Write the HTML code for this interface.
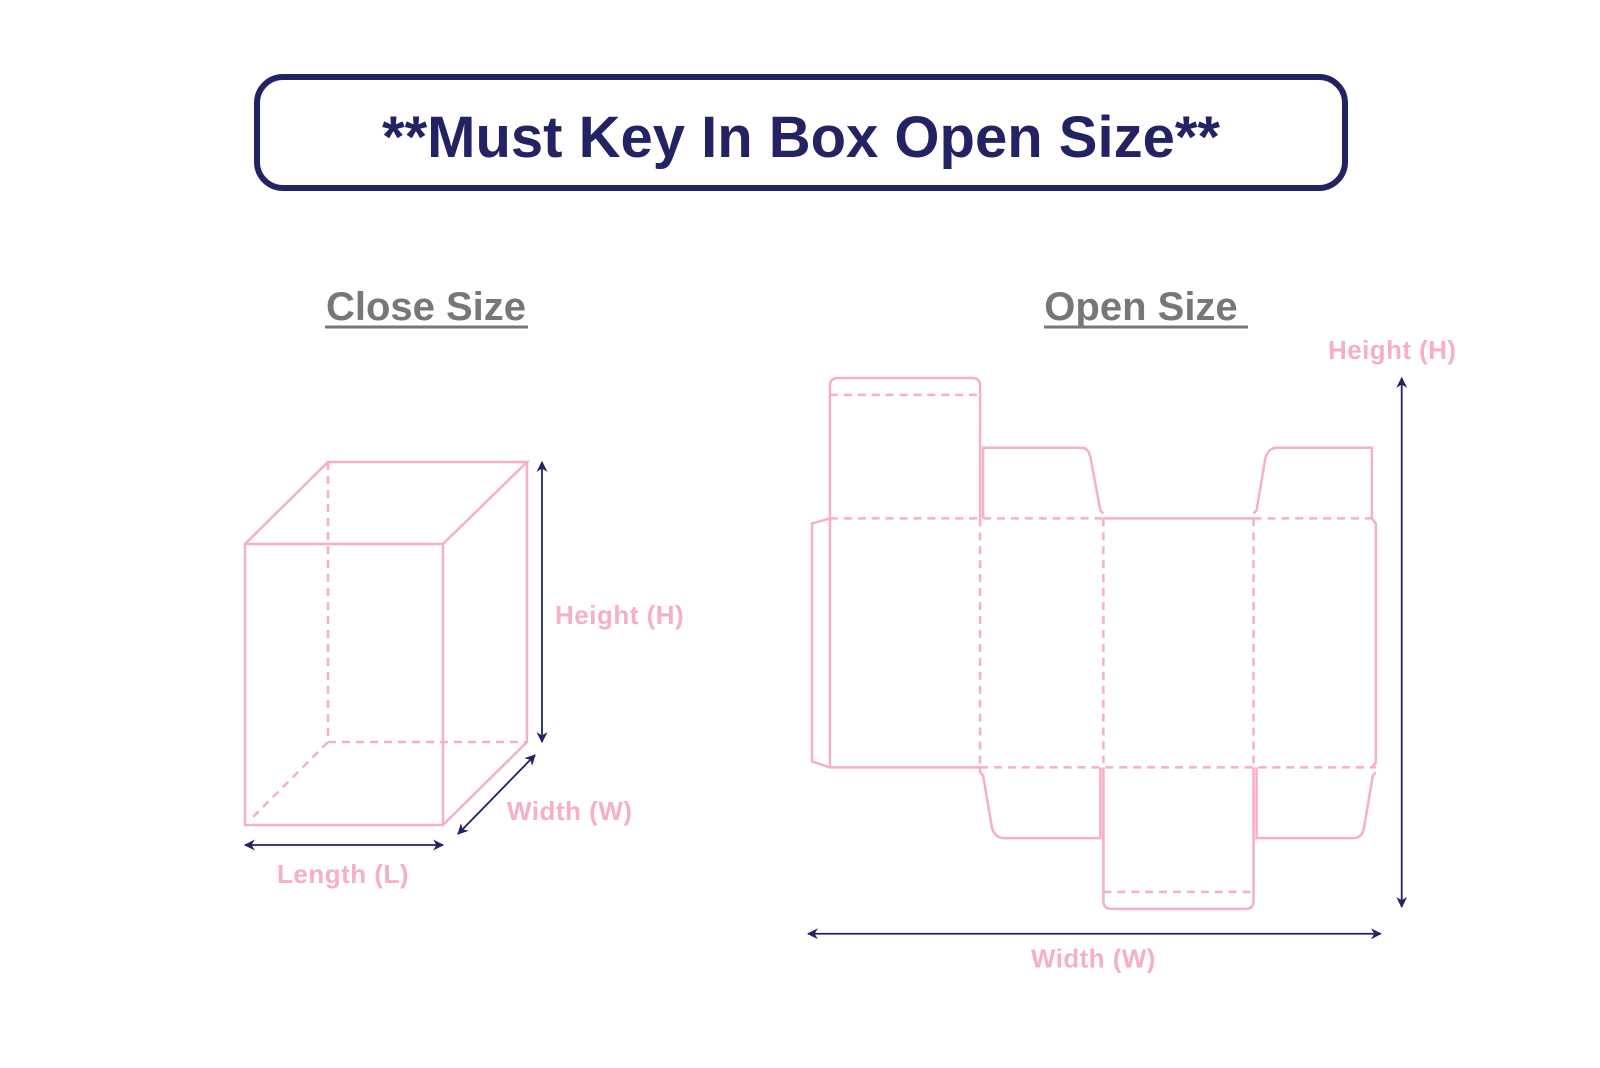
<!DOCTYPE html>
<html><head><meta charset="utf-8"><style>
html,body{margin:0;padding:0;background:#fff;}
svg{display:block;}
</style></head><body>
<svg width="1600" height="1068" viewBox="0 0 1600 1068" xmlns="http://www.w3.org/2000/svg">
<defs>
<marker id="ah" viewBox="0 0 10 10" refX="9" refY="5" markerWidth="13" markerHeight="11" orient="auto-start-reverse" markerUnits="userSpaceOnUse">
<path d="M0,0 L10,5 L0,10 L3,5 z" fill="#232363"/></marker>
</defs>
<rect x="257" y="77" width="1088" height="111" rx="26" fill="none" stroke="#232363" stroke-width="6"/>
<text x="801" y="157" text-anchor="middle" font-family="Liberation Sans, sans-serif" font-weight="bold" font-size="58" fill="#232363">**Must Key In Box Open Size**</text>
<text x="426" y="320" text-anchor="middle" font-family="Liberation Sans, sans-serif" font-weight="bold" font-size="40" fill="#77777a">Close Size</text>
<text x="1141" y="320" text-anchor="middle" font-family="Liberation Sans, sans-serif" font-weight="bold" font-size="40" fill="#77777a">Open Size</text>
<line x1="325" y1="327" x2="528" y2="327" stroke="#77777a" stroke-width="3"/>
<line x1="1044" y1="327" x2="1248" y2="327" stroke="#77777a" stroke-width="3"/>

<g transform="translate(-1,-2)">
<g fill="none" stroke="#f6afc4" stroke-width="2.5">
<rect x="246" y="546" width="198" height="281"/>
<polyline points="246,546 329,464 528,464 444,546"/>
<polyline points="528,464 528,744 444,827"/>
<g stroke-dasharray="8,6">
<line x1="329" y1="464" x2="329" y2="744"/>
<line x1="329" y1="744" x2="528" y2="744"/>
<line x1="329" y1="744" x2="250" y2="823"/>
</g>
</g>
<g stroke="#232363" stroke-width="1.8">
<line x1="543" y1="464" x2="543" y2="744" marker-start="url(#ah)" marker-end="url(#ah)"/>
<line x1="459" y1="836" x2="536" y2="757" marker-start="url(#ah)" marker-end="url(#ah)"/>
<line x1="246" y1="847" x2="444" y2="847" marker-start="url(#ah)" marker-end="url(#ah)"/>
</g>
<g font-family="Liberation Sans, sans-serif" font-weight="bold" font-size="26" letter-spacing="0.5" fill="#f6afc4">
<text x="556" y="626">Height (H)</text>
<text x="508" y="822">Width (W)</text>
<text x="278" y="885">Length (L)</text>
</g>
</g>

<g transform="matrix(0.9944,0,0,0.996,0.6,-0.5)">
<g stroke="#232363" stroke-width="1.8">
<line x1="1409" y1="380" x2="1409" y2="911" marker-start="url(#ah)" marker-end="url(#ah)"/>
<line x1="812" y1="938" x2="1388" y2="938" marker-start="url(#ah)" marker-end="url(#ah)"/>
</g>
<g font-family="Liberation Sans, sans-serif" font-weight="bold" font-size="26" letter-spacing="0.5" fill="#f6afc4">
<text x="1335" y="361">Height (H)</text>
<text x="1099" y="972" text-anchor="middle">Width (W)</text>
</g>
<g fill="none" stroke="#f6afc4" stroke-width="2.5">
<path d="M834,521 V388 Q834,380 842,380 H977 Q985,380 985,388 V521"/>
<path d="M834,521 L816,526 V765 L834,771"/>
<path d="M834,521 V771 H985"/>
<path d="M1109,521 H1260"/>
<path d="M1379,521 L1383,526 V766 L1379,771"/>
<path d="M988,521 V450 H1087 Q1094,450 1096,460 L1106,513 L1109,516"/>
<path d="M1260,516 L1263,513 L1272,460 Q1275,450 1284,450 H1379 V521"/>
<path d="M985,771 V776 L988,779 L997,832 Q1000,842 1010,842 H1106 V771"/>
<path d="M1109,771 V905 Q1109,913 1117,913 H1252 Q1260,913 1260,905 V771"/>
<path d="M1263,771 V842 H1360 Q1369,842 1371,832 L1380,779 L1383,776"/>
<g stroke-dasharray="8,6">
<line x1="834" y1="397" x2="985" y2="397"/>
<line x1="834" y1="521" x2="1109" y2="521"/>
<line x1="1260" y1="521" x2="1383" y2="521"/>
<line x1="985" y1="771" x2="1383" y2="771"/>
<line x1="985" y1="521" x2="985" y2="771"/>
<line x1="1109" y1="521" x2="1109" y2="771"/>
<line x1="1260" y1="521" x2="1260" y2="771"/>
<line x1="1109" y1="896" x2="1260" y2="896"/>
</g>
</g>
</g>
</svg>
</body></html>
